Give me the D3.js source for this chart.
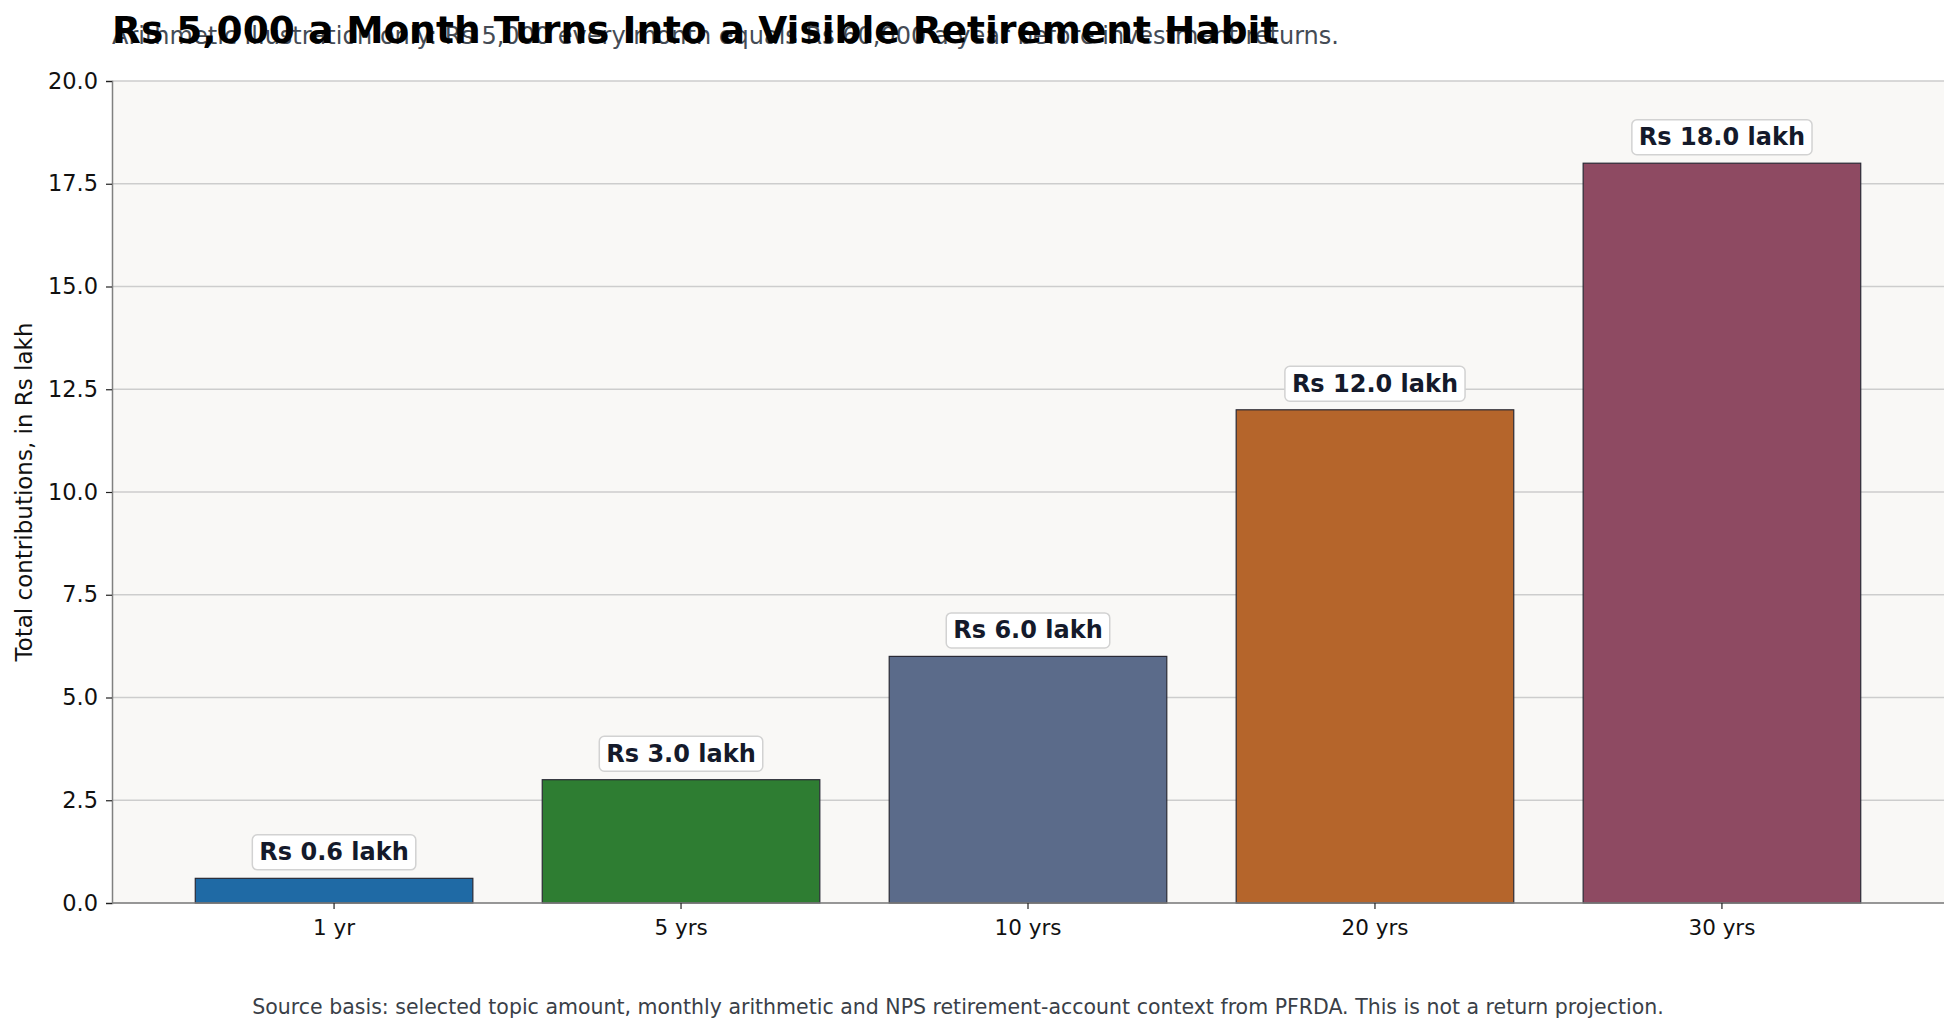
<!DOCTYPE html>
<html>
<head>
<meta charset="utf-8">
<script src="https://cdn.jsdelivr.net/npm/d3@7"></script>
<style>
  body { margin: 0; background: #fff; }
  svg { display: block; font-family: "DejaVu Sans", sans-serif; }
</style>
</head>
<body>
<svg width="1959" height="1033"></svg>
<script>
// data
const periods = ["1 yr", "5 yrs", "10 yrs", "20 yrs", "30 yrs"];
const totals = [0.6, 3.0, 6.0, 12.0, 18.0];
const barColors = ["#1f6aa5", "#2e7d32", "#5b6b8a", "#b5652b", "#8e4a62"];
const yTicks = [0, 2.5, 5, 7.5, 10, 12.5, 15, 17.5, 20];

const titleText = "Rs 5,000 a Month Turns Into a Visible Retirement Habit";
const subtitleText = "Arithmetic illustration only: Rs 5,000 every month equals Rs 60,000 a year before investment returns.";
const yLabel = "Total contributions, in Rs lakh";
const footerText = "Source basis: selected topic amount, monthly arithmetic and NPS retirement-account context from PFRDA. This is not a return projection.";

const margin = { top: 81, right: 15, bottom: 130, left: 112 };
const width = 1959, height = 1033;

const svg = d3.select("svg");

// plot background
svg.append("rect")
  .attr("x", margin.left)
  .attr("y", margin.top)
  .attr("width", width - margin.left - margin.right)
  .attr("height", height - margin.top - margin.bottom)
  .attr("fill", "#f9f8f6");

const xScale = d3.scaleBand()
  .domain(periods)
  .range([margin.left, width - margin.right])
  .paddingInner(0.2)
  .paddingOuter(0.24);

const yScale = d3.scaleLinear()
  .domain([0, 20])
  .range([height - margin.bottom, margin.top]);

// gridlines
svg.append("g")
  .selectAll("line")
  .data(yTicks)
  .join("line")
  .attr("x1", margin.left)
  .attr("x2", width - margin.right)
  .attr("y1", d => yScale(d))
  .attr("y2", d => yScale(d))
  .attr("stroke", "#cdcdcd")
  .attr("stroke-width", 1.3);

// bars
svg.append("g")
  .selectAll("rect")
  .data(periods)
  .join("rect")
  .attr("x", p => xScale(p))
  .attr("y", (p, i) => yScale(totals[i]))
  .attr("width", xScale.bandwidth())
  .attr("height", (p, i) => yScale(0) - yScale(totals[i]))
  .attr("fill", (p, i) => barColors[i])
  .attr("stroke", "#2a2a35")
  .attr("stroke-width", 1.2);

// y axis
const yAxis = svg.append("g")
  .attr("transform", `translate(${margin.left},0)`)
  .call(d3.axisLeft(yScale).tickValues(yTicks).tickFormat(d3.format(".1f")).tickSize(6).tickPadding(8));
yAxis.select(".domain").attr("stroke", "#808080").attr("stroke-width", 1.5);
yAxis.selectAll(".tick line").attr("stroke", "#222").attr("stroke-width", 1.2);
yAxis.selectAll(".tick text")
  .attr("font-size", 22.5)
  .attr("font-family", "DejaVu Sans")
  .attr("fill", "#111");

// x axis
const xAxis = svg.append("g")
  .attr("transform", `translate(0,${height - margin.bottom})`)
  .call(d3.axisBottom(xScale).tickSize(6).tickPadding(11).tickSizeOuter(0));
xAxis.select(".domain").attr("stroke", "#808080").attr("stroke-width", 1.5)
  .attr("d", `M${margin.left},0H${width - margin.right}`);
xAxis.selectAll(".tick line").attr("stroke", "#222").attr("stroke-width", 1.2);
xAxis.selectAll(".tick text")
  .attr("font-size", 21.5)
  .attr("font-family", "DejaVu Sans")
  .attr("fill", "#111");

// value labels with boxes
const labelG = svg.append("g");
periods.forEach((p, i) => {
  const cx = xScale(p) + xScale.bandwidth() / 2;
  const cy = yScale(totals[i]) - 26;
  const g = labelG.append("g");
  const box = g.append("rect");
  const t = g.append("text")
    .attr("x", cx)
    .attr("y", cy)
    .attr("text-anchor", "middle")
    .attr("dominant-baseline", "central")
    .attr("font-size", 24)
    .attr("font-weight", "bold")
    .attr("fill", "#141a2b")
    .text(`Rs ${totals[i].toFixed(1)} lakh`);
  const bb = t.node().getBBox();
  box.attr("x", bb.x - 7)
    .attr("y", cy - 17.5)
    .attr("width", bb.width + 14)
    .attr("height", 35)
    .attr("rx", 5)
    .attr("fill", "#ffffff")
    .attr("stroke", "#d2d2d2")
    .attr("stroke-width", 1.5);
});

// y label
svg.append("text")
  .attr("transform", `translate(32,${(margin.top + height - margin.bottom) / 2}) rotate(-90)`)
  .attr("text-anchor", "middle")
  .attr("font-size", 23)
  .attr("fill", "#111")
  .text(yLabel);

// subtitle then title (title drawn on top)
svg.append("text")
  .attr("x", 112)
  .attr("y", 44)
  .attr("font-size", 24)
  .attr("fill", "#444b55")
  .text(subtitleText);

svg.append("text")
  .attr("x", 112)
  .attr("y", 43)
  .attr("font-size", 37.5)
  .attr("font-weight", "bold")
  .attr("fill", "#000")
  .text(titleText);

// footer
svg.append("text")
  .attr("x", 958)
  .attr("y", 1014)
  .attr("text-anchor", "middle")
  .attr("font-size", 20.5)
  .attr("fill", "#3a3f48")
  .text(footerText);
</script>
</body>
</html>
